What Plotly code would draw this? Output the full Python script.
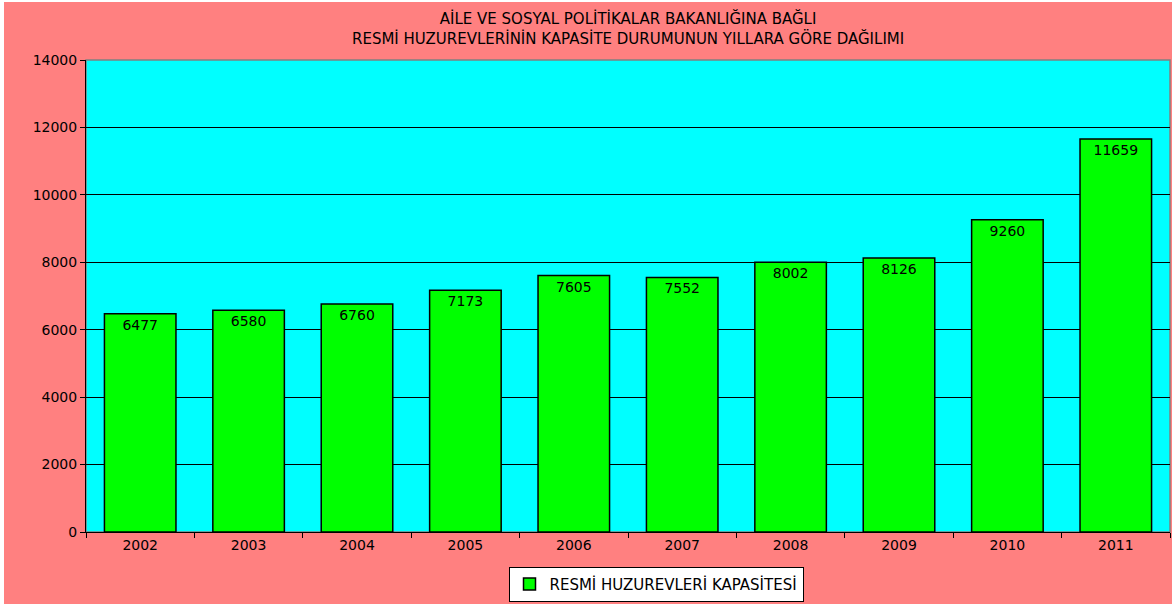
import plotly.graph_objects as go

years = ["2002", "2003", "2004", "2005", "2006", "2007", "2008", "2009", "2010", "2011"]
capacity = [6477, 6580, 6760, 7173, 7605, 7552, 8002, 8126, 9260, 11659]
series_name = "RESMİ HUZUREVLERİ KAPASİTESİ"
title_lines = ["AİLE VE SOSYAL POLİTİKALAR BAKANLIĞINA BAĞLI",
               "RESMİ HUZUREVLERİNİN KAPASİTE DURUMUNUN YILLARA GÖRE DAĞILIMI"]
y_ticks = [0, 2000, 4000, 6000, 8000, 10000, 12000, 14000]

font = "DejaVu Sans, Liberation Sans, Arial, sans-serif"

# page offset (reference chart starts 4px right, 2px down)
OX, OY = 4, 2
W, H = 1172 - OX, 604 - OY
L, T = 86 - OX, 60 - OY
R, B = 2, 69
pw, ph = W - L - R, H - T - B

fig = go.Figure()
fig.add_trace(go.Bar(
    x=years, y=capacity, name=series_name,
    marker=dict(color="#00ff00", line=dict(color="black", width=1.5)),
    text=[str(v) for v in capacity], textposition="inside",
    insidetextanchor="end", constraintext="none",
    textfont=dict(family=font, size=14, color="black"),
    width=0.66,
))

fig.update_layout(
    width=W, height=H,
    margin=dict(l=L, r=R, t=T, b=B),
    paper_bgcolor="#ff8080", plot_bgcolor="#00ffff",
    font=dict(family=font, size=13, color="black"),
    showlegend=True,
    legend=dict(orientation="h", x=(656 - 86) / pw, xanchor="center", y=-35 / ph, yanchor="top",
                bgcolor="white", bordercolor="black", borderwidth=1,
                font=dict(family=font, size=15, color="black")),
    bargap=0.34,
)
fig.add_annotation(text="<br>".join(title_lines), xref="paper", yref="paper",
                   x=0.5, y=1 + (T - 26) / ph, xanchor="center", yanchor="middle",
                   showarrow=False, font=dict(family=font, size=15, color="black"))
fig.update_xaxes(type="category", showline=True, linecolor="black", linewidth=1,
                 ticks="outside", tickson="boundaries", ticklen=5, tickcolor="black",
                 showgrid=False, tickfont=dict(size=14))
fig.update_yaxes(range=[0, 14000], tickvals=y_ticks, tickformat="d", showline=True,
                 linecolor="black", linewidth=1,
                 ticks="outside", ticklen=5, tickcolor="black", showgrid=True, gridcolor="black",
                 gridwidth=1, zeroline=False, tickfont=dict(size=14))
fig.add_shape(type="rect", xref="paper", yref="paper", x0=0, y0=0, x1=1, y1=1,
              line=dict(color="#808080", width=1.5), layer="below")
fig.write_html("out.html", post_script="document.body.style.margin='%dpx 0 0 %dpx';" % (OY, OX))
